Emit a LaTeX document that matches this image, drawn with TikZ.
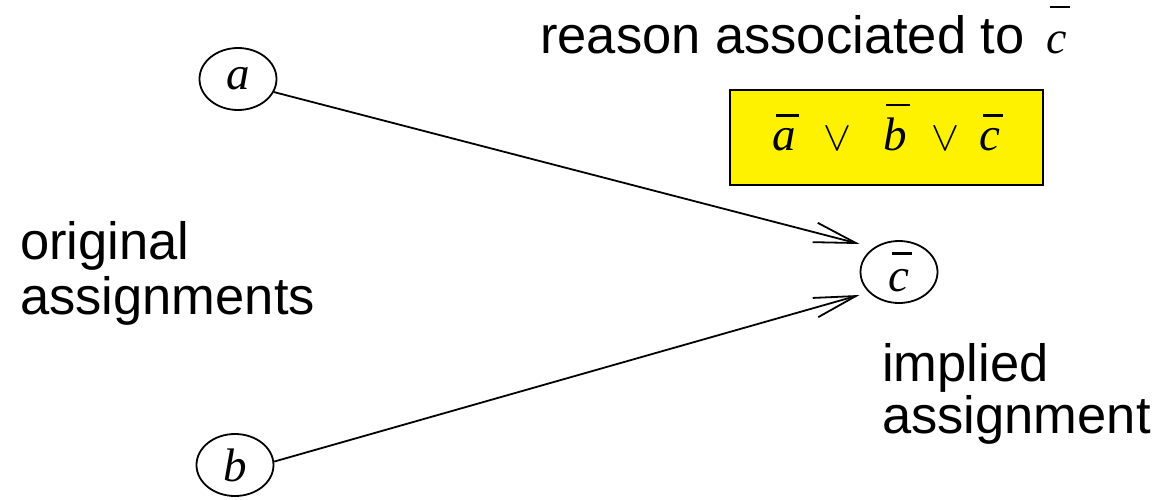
\RequirePackage{fix-cm}
\documentclass[tikz,border=0pt]{standalone}
\usepackage{fontspec}
\setmainfont{Liberation Sans}
\newfontfamily\tms{Liberation Serif}
\usetikzlibrary{arrows.meta,shapes.geometric,calc}
\newcommand{\mvar}[1]{\hbox{\tms\itshape #1}}
\newcommand{\bvar}[2][11pt]{\setbox0\hbox{\tms\itshape #2}\vbox{\offinterlineskip\hbox to \wd0{\kern3pt\vrule width \wd0 height 2.5pt\hss}\kern#1\box0}}
\newcommand{\orop}{{\fontsize{42}{46}\selectfont$\vee$}}
\begin{document}
\begin{tikzpicture}[x=1pt,y=-1pt,
  vnode/.style={ellipse,draw,line width=1.8pt,inner sep=0pt,minimum width=77pt,minimum height=62pt,
    font=\fontsize{47}{50}\selectfont},
  lbl/.style={inner sep=0pt,align=left,font=\fontsize{52.5}{55}\selectfont},
  conn/.style={line width=1.8pt,-{Straight Barb[length=42pt,width=20pt,line width=1.8pt]}},
  reason/.style={rectangle,draw,fill=yellow,line width=2.5pt,minimum width=313pt,minimum height=95pt,
    inner sep=0pt,text height=48pt,text depth=23pt,font=\fontsize{47}{50}\selectfont}]
\useasboundingbox (0,0) rectangle (1153,500);
\node[vnode] (a) at (238,79) {\mvar{a}};
\node[vnode] (b) at (235,465) {\mvar{b}};
\node[vnode] (c) at (899,272) {\bvar[14pt]{c}};
\node[reason] (box) at (886.5,137.5) {\bvar{a}\hspace{27pt}\orop\hspace{32pt}\bvar{b}\hspace{25pt}\orop\hspace{20pt}\bvar{c}\hspace{14pt}};
\node[lbl,anchor=base west] (title) at (540,54) {reason associated to\hspace{22pt}{\fontsize{46}{50}\selectfont\bvar[24pt]{c}}};
\node[lbl,anchor=base west] (orig) at (20,314) {original\\assignments};
\node[lbl,anchor=base west] (impl) at (882,433) {implied\\[-3pt]assignment};
\draw[conn] (a.-20) -- ($(c.west)+(0pt,28pt)$);
\draw[conn] (b.5) -- ($(c.west)+(0pt,-23pt)$);
\end{tikzpicture}
\end{document}
